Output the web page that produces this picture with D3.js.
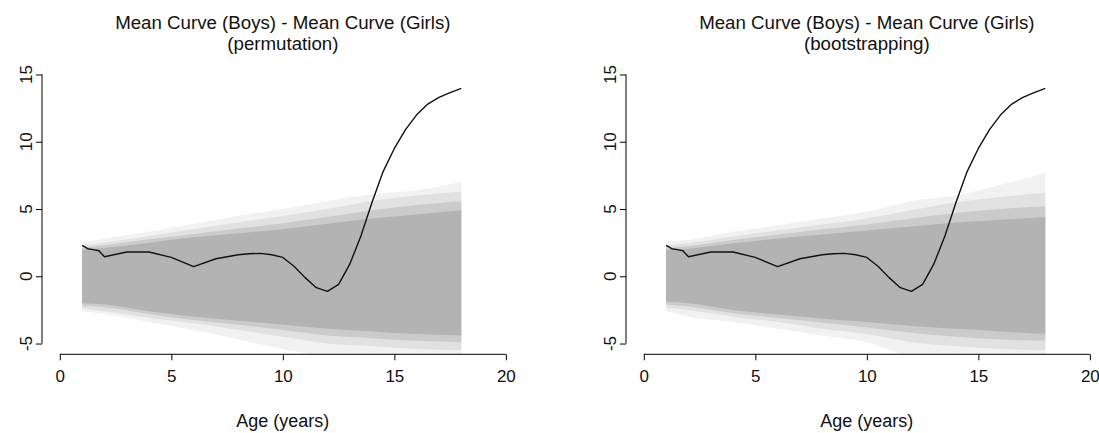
<!DOCTYPE html>
<html>
<head>
<meta charset="utf-8">
<script src="https://cdn.jsdelivr.net/npm/d3@7"></script>
<style>
  body { margin: 0; background: #fff; }
  svg { display: block; font-family: "Liberation Sans", Arial, Helvetica, sans-serif; }
  .tick line, .axis-line { stroke: #000; }
</style>
</head>
<body>
<div id="chart"></div>
<script>

// mean curve (boys - girls), same in both panels
var ages = [1, 1.25, 1.5, 1.75, 2, 3, 4, 5, 6, 7, 8, 8.5, 9, 9.5, 10, 10.5, 11, 11.5, 12,
            12.5, 13, 13.5, 14, 14.5, 15, 15.5, 16, 16.5, 17, 17.5, 18];
var meanDiff = [2.3, 2.05, 1.98, 1.9, 1.45, 1.8, 1.8, 1.4, 0.72, 1.3, 1.6, 1.67, 1.7, 1.6, 1.4,
                0.75, -0.1, -0.85, -1.12, -0.6, 0.9, 3.0, 5.5, 7.8, 9.5, 10.9, 12.0, 12.8, 13.3, 13.65, 13.97];

// envelopes of the resampled curves, outer fringe -> dense core
var bandAges = [1, 2, 4, 6, 8, 10, 12, 14, 16, 18];

var permHi1 = [2.5, 2.8, 3.3, 3.9, 4.5, 5.0, 5.6, 6.1, 6.4, 7.0];
var permHi2 = [2.3, 2.5, 3.0, 3.5, 4.0, 4.5, 5.0, 5.6, 6.0, 6.3];
var permHi3 = [2.1, 2.3, 2.75, 3.15, 3.55, 3.95, 4.4, 4.9, 5.3, 5.6];
var permHi4 = [1.95, 2.1, 2.5, 2.9, 3.2, 3.5, 3.9, 4.3, 4.6, 4.9];
var permLo4 = [-2.0, -2.1, -2.6, -3.0, -3.3, -3.6, -3.9, -4.1, -4.3, -4.4];
var permLo3 = [-2.2, -2.3, -2.8, -3.25, -3.6, -4.0, -4.4, -4.6, -4.8, -4.9];
var permLo2 = [-2.4, -2.6, -3.1, -3.5, -4.0, -4.5, -5.0, -5.2, -5.4, -5.5];
var permLo1 = [-2.6, -2.8, -3.4, -4.0, -4.7, -5.4, -5.9, -6.0, -6.0, -6.0];

var bootHi1 = [2.6, 2.7, 3.3, 3.8, 4.3, 4.8, 5.6, 6.0, 6.8, 7.7];
var bootHi2 = [2.3, 2.45, 2.95, 3.4, 3.85, 4.3, 4.9, 5.5, 5.9, 6.2];
var bootHi3 = [2.1, 2.25, 2.7, 3.1, 3.5, 3.85, 4.3, 4.7, 5.0, 5.2];
var bootHi4 = [1.95, 2.05, 2.45, 2.8, 3.1, 3.4, 3.7, 4.0, 4.2, 4.4];
var bootLo4 = [-1.9, -2.0, -2.5, -2.85, -3.15, -3.4, -3.7, -3.9, -4.1, -4.3];
var bootLo3 = [-2.1, -2.25, -2.75, -3.1, -3.45, -3.8, -4.2, -4.5, -4.7, -4.8];
var bootLo2 = [-2.3, -2.5, -3.0, -3.4, -3.9, -4.3, -4.9, -5.2, -5.4, -5.5];
var bootLo1 = [-2.6, -3.0, -3.4, -3.9, -4.4, -4.9, -5.9, -6.0, -6.0, -6.0];

var bandColors = ["#f1f1f1", "#e1e1e1", "#cbcbcb", "#b3b3b3"];

var xTicks = [0, 5, 10, 15, 20];
var yTicks = [-5, 0, 5, 10, 15];
var titleLine1 = "Mean Curve (Boys) - Mean Curve (Girls)";
var subtitles = ["(permutation)", "(bootstrapping)"];
var xLabel = "Age (years)";

var width = 1099, height = 433;
var plotW = 481.7, plotTop = 63.7, plotBottom = 354.3;

var svg = d3.select("#chart").append("svg")
    .attr("width", width)
    .attr("height", height);

var panels = [
  { left: 42,  sub: subtitles[0],
    bands: [[permHi1, permLo1], [permHi2, permLo2], [permHi3, permLo3], [permHi4, permLo4]] },
  { left: 626, sub: subtitles[1],
    bands: [[bootHi1, bootLo1], [bootHi2, bootLo2], [bootHi3, bootLo3], [bootHi4, bootLo4]] }
];

panels.forEach(function(p, i) {
  var x = d3.scaleLinear().domain([-0.8, 20.8]).range([p.left, p.left + plotW]);
  var y = d3.scaleLinear().domain([-5.8, 15.8]).range([plotBottom, plotTop]);
  var cx = p.left + plotW / 2;

  var g = svg.append("g");

  g.append("clipPath").attr("id", "clip" + i)
    .append("rect")
    .attr("x", p.left).attr("y", plotTop)
    .attr("width", plotW).attr("height", plotBottom - plotTop);

  var plot = g.append("g").attr("clip-path", "url(#clip" + i + ")");

  // gray bands of resampled curves
  p.bands.forEach(function(b, j) {
    var area = d3.area()
        .x(function(d, k) { return x(bandAges[k]); })
        .y0(function(d, k) { return y(b[1][k]); })
        .y1(function(d, k) { return y(b[0][k]); })
        .curve(d3.curveMonotoneX);
    plot.append("path")
        .attr("d", area(bandAges))
        .attr("fill", bandColors[j]);
  });

  // observed difference
  var line = d3.line()
      .x(function(d, k) { return x(ages[k]); })
      .y(function(d) { return y(d); });
  plot.append("path")
      .attr("d", line(meanDiff))
      .attr("fill", "none")
      .attr("stroke", "#111")
      .attr("stroke-width", 1.4)
      .attr("stroke-linejoin", "round");

  // x axis
  var xAxis = g.append("g")
      .attr("transform", "translate(0," + plotBottom + ")")
      .call(d3.axisBottom(x).tickValues(xTicks).tickSize(6).tickPadding(10));
  xAxis.select(".domain").remove();
  xAxis.append("line").attr("class", "axis-line")
      .attr("x1", x(0)).attr("x2", x(20));
  xAxis.selectAll("text")
      .attr("font-size", 17)
      .attr("fill", "#111")
      .attr("font-family", null);

  // y axis, labels rotated like R
  var yAxis = g.append("g")
      .attr("transform", "translate(" + p.left + ",0)")
      .call(d3.axisLeft(y).tickValues(yTicks).tickSize(6));
  yAxis.select(".domain").remove();
  yAxis.selectAll("text").remove();
  yAxis.append("line").attr("class", "axis-line")
      .attr("y1", y(-5)).attr("y2", y(15));
  yAxis.selectAll(".ylab")
      .data(yTicks)
      .enter().append("text")
      .attr("transform", function(d) { return "translate(-10," + y(d) + ") rotate(-90)"; })
      .attr("text-anchor", "middle")
      .attr("font-size", 17)
      .attr("fill", "#111")
      .text(function(d) { return d; });

  // titles
  g.append("text")
      .attr("x", cx).attr("y", 29)
      .attr("text-anchor", "middle")
      .attr("font-size", 18.7)
      .attr("fill", "#111")
      .text(titleLine1);
  g.append("text")
      .attr("x", cx).attr("y", 50)
      .attr("text-anchor", "middle")
      .attr("font-size", 18.7)
      .attr("fill", "#111")
      .text(p.sub);

  g.append("text")
      .attr("x", cx).attr("y", 427)
      .attr("text-anchor", "middle")
      .attr("font-size", 18)
      .attr("fill", "#111")
      .text(xLabel);
});

</script>
</body>
</html>
